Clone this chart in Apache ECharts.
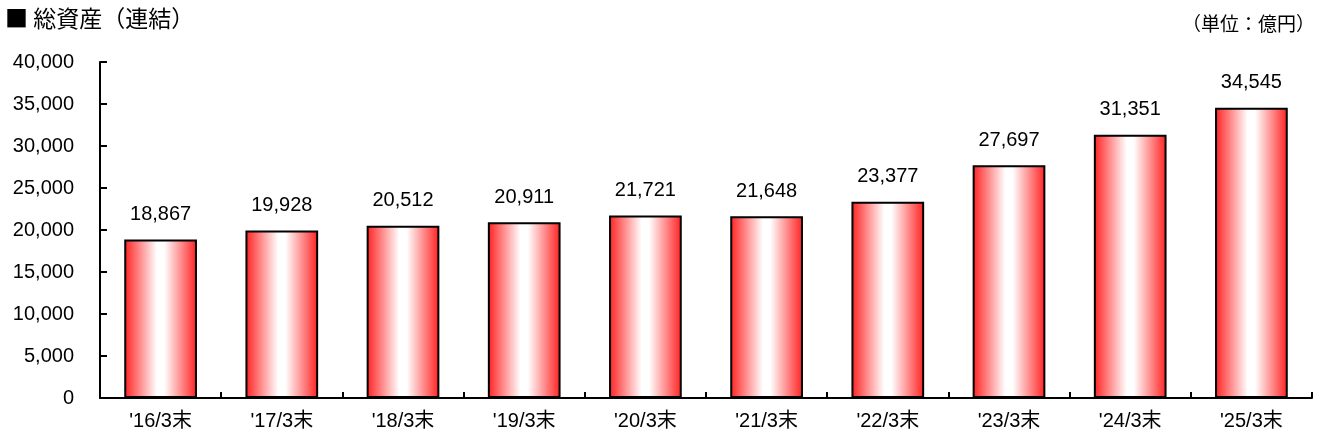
<!DOCTYPE html>
<html>
<head>
<meta charset="utf-8">
<script src="https://cdn.jsdelivr.net/npm/echarts@6/dist/echarts.min.js"></script>
<style>
  html, body { margin: 0; padding: 0; background: #fff; }
  #chart { width: 1320px; height: 438px; }
</style>
</head>
<body>
<div id="chart"></div>
<script>
// 決算期
var categories = ["'16/3末", "'17/3末", "'18/3末", "'19/3末", "'20/3末", "'21/3末", "'22/3末", "'23/3末", "'24/3末", "'25/3末"];
// 総資産（億円）
var totalAssets = [18867, 19928, 20512, 20911, 21721, 21648, 23377, 27697, 31351, 34545];

var font = "'Liberation Sans', 'Noto Sans CJK JP', sans-serif";
var cjkFont = "'Noto Sans CJK JP', sans-serif";

var chart = echarts.init(document.getElementById("chart"));
chart.setOption({
  animation: false,
  textStyle: { fontFamily: font },
  title: [
    {
      text: "■ 総資産（連結）",
      left: 0, top: 2,
      textStyle: { fontSize: 23, fontWeight: "normal", color: "#000", fontFamily: cjkFont }
    },
    {
      text: "（単位：億円）",
      right: 0, top: 9,
      textStyle: { fontSize: 19, fontWeight: "normal", color: "#000", fontFamily: cjkFont }
    }
  ],
  grid: { left: 100, right: 8, top: 62, bottom: 40 },
  xAxis: {
    type: "category",
    data: categories,
    axisLine: { lineStyle: { color: "#000", width: 2 } },
    axisTick: { show: true, inside: true, length: 6, alignWithLabel: false, lineStyle: { color: "#000", width: 2 } },
    axisLabel: { color: "#000", fontSize: 20, margin: 13, fontFamily: font }
  },
  yAxis: {
    type: "value",
    min: 0, max: 40000, interval: 5000,
    axisLine: { show: true, lineStyle: { color: "#000", width: 2 } },
    axisTick: { show: true, inside: true, length: 7, lineStyle: { color: "#000", width: 2 } },
    splitLine: { show: false },
    axisLabel: {
      color: "#000", fontSize: 20, margin: 26, fontFamily: font,
      formatter: function (v) { return v.toLocaleString("en-US"); }
    }
  },
  series: [{
    type: "bar",
    data: totalAssets,
    barCategoryGap: "40%",
    itemStyle: {
      borderColor: "#000",
      borderWidth: 2,
      color: new echarts.graphic.LinearGradient(0, 0, 1, 0, [
        { offset: 0, color: "#ff2020" },
        { offset: 0.45, color: "#ffffff" },
        { offset: 0.55, color: "#ffffff" },
        { offset: 1, color: "#ff2020" }
      ])
    },
    label: {
      show: true, position: "top", distance: 15,
      color: "#000", fontSize: 20, fontFamily: font,
      formatter: function (p) { return p.value.toLocaleString("en-US"); }
    }
  }]
});
</script>
</body>
</html>
